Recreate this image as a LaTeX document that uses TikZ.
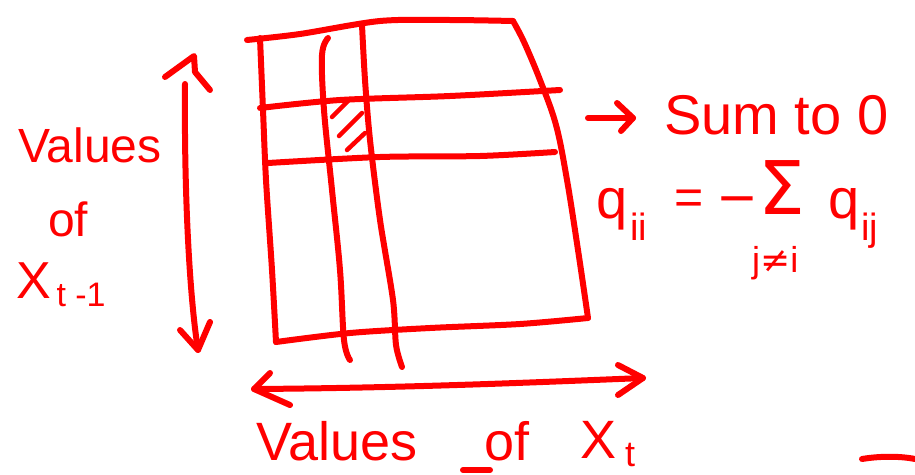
\documentclass[tikz,border=0pt]{standalone}
\usepackage{fontspec}
\setmainfont{Liberation Sans}
\newfontfamily\symfont{DejaVu Sans}
\usetikzlibrary{arrows.meta}
\definecolor{ink}{RGB}{255,0,0}
\tikzset{
  pen/.style={draw=ink, line width=6pt, line cap=round, line join=round},
  thin pen/.style={draw=ink, line width=4.5pt, line cap=round, line join=round},
  hand/.style={text=ink, inner sep=0pt, anchor=base west}
}
\begin{document}
\begin{tikzpicture}[x=1pt,y=-1pt]
\useasboundingbox (0,0) rectangle (915,474);
% outer matrix outline
\draw[pen] plot[smooth, tension=0.5] coordinates {(247,40) (300,34) (380,21) (450,20) (513,21)};
\draw[pen] plot[smooth, tension=0.6] coordinates {(513,21) (524,42) (540,80) (556,125) (567,180) (578,250) (588,318)};
\draw[pen] plot[smooth, tension=0.5] coordinates {(260,38) (263,110) (266,180) (272,270) (276,342)};
\draw[pen] plot[smooth, tension=0.5] coordinates {(276,342) (350,333) (430,328) (520,324) (588,318)};
% inner vertical lines
\draw[pen] plot[smooth, tension=0.6] coordinates {(328,38) (322,55) (324,110) (332,190) (340,270) (344,340) (350,360)};
\draw[pen] plot[smooth, tension=0.5] coordinates {(362,25) (365,80) (370,140) (380,220) (393,300) (396,345) (402,367)};
% inner horizontal lines
\draw[pen] plot[smooth, tension=0.5] coordinates {(260,108) (340,100) (450,96) (560,90)};
\draw[pen] plot[smooth, tension=0.5] coordinates {(268,163) (380,157) (480,156) (555,152)};
% hatching in the cell
\draw[thin pen] (332,117) -- (350,99);
\draw[thin pen] (339,136) -- (362,113);
\draw[thin pen] (347,150) -- (365,133);
% left vertical double arrow
\coordinate (vtop) at (194,56);
\coordinate (vbot) at (198,350);
\draw[pen] (185,84) .. controls (184,200) and (190,300) .. (vbot);
\draw[pen] (165,77) -- (vtop) -- (195,72) -- (210,90);
\draw[pen] (180,330) -- (vbot) -- (210,322);
% bottom horizontal double arrow
\coordinate (hl) at (254,389);
\coordinate (hr) at (643,378);
\draw[pen] (hl) .. controls (400,388) and (520,383) .. (hr);
\draw[pen] (270,373) -- (hl) -- (290,405);
\draw[pen] (618,365) -- (hr) -- (618,395);
% left label
\node[hand, font=\fontsize{48}{48}\selectfont] (vals) at (18,162) {Values};
\node[hand, font=\fontsize{48}{48}\selectfont] (of) at (48,236) {of};
\node[hand, font=\fontsize{52}{52}\selectfont] (xtm) at (16,298) {X\raisebox{-8pt}{\fontsize{34}{34}\selectfont\,t -1}};
% sum to zero
\node[hand, font=\fontsize{56}{56}\selectfont] (sum) at (664,134) {Sum to 0};
\coordinate (sa) at (588,118);
\draw[pen] (sa) -- (633,118);
\draw[pen] (617,103) -- (633,118) -- (621,131);
% equation
\node[hand, font=\fontsize{56}{56}\selectfont] (q1) at (596,218) {q};
\node[hand, font=\fontsize{38}{38}\selectfont] (ii) at (630,240) {ii};
\node[hand, font=\fontsize{50}{50}\selectfont] (eqs) at (674,214) {=};
\node[hand, font=\fontsize{50}{50}\selectfont] (minus) at (716,214) {\symfont −};
\node[hand, font=\fontsize{74}{74}\selectfont] (sig) at (758,214) {\symfont Σ};
\node[hand, font=\fontsize{36}{36}\selectfont] (jni) at (752,272) {j\symfont ≠\rmfamily i};
\node[hand, font=\fontsize{56}{56}\selectfont] (q2) at (828,218) {q};
\node[hand, font=\fontsize{38}{38}\selectfont] (ij) at (861,240) {ij};
% bottom label
\node[hand, font=\fontsize{54}{54}\selectfont] (vals2) at (256,460) {Values};
\node[hand, font=\fontsize{54}{54}\selectfont] (of2) at (484,460) {of};
\node[hand, font=\fontsize{54}{54}\selectfont] (xt) at (580,458) {X};
\node[hand, font=\fontsize{36}{36}\selectfont] (tsub) at (625,466) {t};
\draw[pen] (463,470) -- (490,470);
\draw[pen] (862,459) .. controls (880,456) and (900,456) .. (915,459);
\end{tikzpicture}
\end{document}
